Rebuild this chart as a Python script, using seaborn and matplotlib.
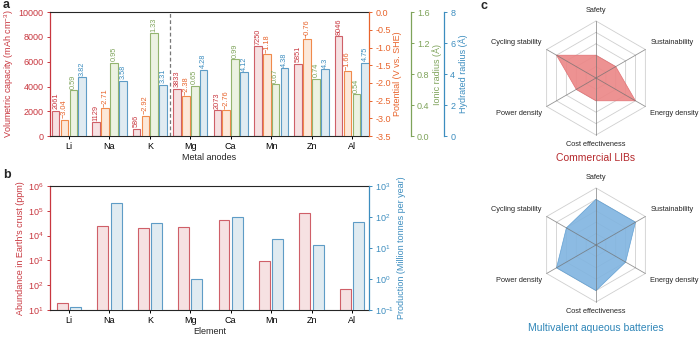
import numpy as np
import pandas as pd
import matplotlib
matplotlib.use('Agg')
import matplotlib.pyplot as plt
import seaborn as sns

# ---------------- data ----------------
metals = ['Li', 'Na', 'K', 'Mg', 'Ca', 'Mn', 'Zn', 'Al']
capacity = [2061, 1129, 586, 3833, 2073, 7250, 5851, 8046]
potential = [-3.04, -2.71, -2.92, -2.38, -2.76, -1.18, -0.76, -1.66]
ionic_radius = [0.59, 0.95, 1.33, 0.65, 0.99, 0.67, 0.74, 0.54]
hydrated_radius = [3.82, 3.58, 3.31, 4.28, 4.12, 4.38, 4.3, 4.75]
capacity_labels = ['2061', '1129', '586', '3833', '2073', '7250', '5851', '8046']
potential_labels = ['\u22123.04', '\u22122.71', '\u22122.92', '\u22122.38', '\u22122.76', '\u22121.18', '\u22120.76', '\u22121.66']
ionic_labels = ['0.59', '0.95', '1.33', '0.65', '0.99', '0.67', '0.74', '0.54']
hydrated_labels = ['3.82', '3.58', '3.31', '4.28', '4.12', '4.38', '4.3', '4.75']

abundance = [20, 23600, 20900, 23300, 41500, 950, 82300, 70]
production = [0.13, 280, 63, 1.0, 100, 19, 12.6, 68]

radar_axes = ['Safety', 'Sustainability', 'Energy density', 'Cost effectiveness',
              'Power density', 'Cycling stability']
libs_scores = [0.4, 0.4, 0.8, 0.4, 0.4, 0.8]
multivalent_scores = [0.8, 0.8, 0.6, 0.8, 0.8, 0.6]
radar_levels = [0.2, 0.4, 0.6, 0.8, 1.0]

# ---------------- style ----------------
sns.set_theme(style='ticks')
plt.rcParams['font.family'] = ['Liberation Sans', 'DejaVu Sans']
plt.rcParams['mathtext.default'] = 'regular'
plt.rcParams['axes.linewidth'] = 0.8

RED, RED_F, RED_T = '#cf5f68', '#f6e1e2', '#c8373f'
ORA, ORA_F, ORA_T = '#f08a4b', '#fce8d9', '#e8642c'
GRN, GRN_F, GRN_T = '#93b46f', '#ecf2e2', '#7ea35a'
BLU, BLU_F, BLU_T = '#5e9cc6', '#e0ebf1', '#3c8dbf'

FS = 6.5
LFS = 5.3

fig = plt.figure(figsize=(7, 3.37), dpi=100)

x = np.arange(len(metals))


def sbars(ax, pos, vals, fill, edge, width):
    df = pd.DataFrame({'x': pos, 'y': vals})
    sns.barplot(data=df, x='x', y='y', native_scale=True, width=width,
                color=fill, edgecolor=edge, linewidth=0.8, saturation=1,
                errorbar=None, ax=ax)


def labels(ax, pos, vals, texts, color):
    for p, v, t in zip(pos, vals, texts):
        ax.annotate(t, (p, v), xytext=(0, 1), textcoords='offset points',
                    rotation=90, ha='center', va='bottom', fontsize=LFS, color=color)


def style_axis(ax, color, side):
    ax.tick_params(axis='y', colors=color, labelsize=FS, length=2.5, width=0.7,
                   direction='out', pad=2)
    ax.spines[side].set_color(color)
    ax.spines[side].set_linewidth(0.9)


# ---------------- panel a ----------------
axA = fig.add_axes([0.0714, 0.596, 0.4557, 0.368])
axP = axA.twinx()
axI = axA.twinx()
axH = axA.twinx()

W = 0.19
off = [-0.33, -0.11, 0.11, 0.33]
sbars(axA, x + off[0], capacity, RED_F, RED, W)
POT_BOTTOM = -3.5
axP.bar(x + off[1], np.array(potential) - POT_BOTTOM, bottom=POT_BOTTOM, width=W,
        color=ORA_F, edgecolor=ORA, linewidth=0.8)
sbars(axI, x + off[2], ionic_radius, GRN_F, GRN, W)
sbars(axH, x + off[3], hydrated_radius, BLU_F, BLU, W)

labels(axA, x + off[0], capacity, capacity_labels, RED_T)
labels(axP, x + off[1], potential, potential_labels, ORA_T)
labels(axI, x + off[2], ionic_radius, ionic_labels, GRN_T)
labels(axH, x + off[3], hydrated_radius, hydrated_labels, BLU_T)

axA.set_ylim(0, 10000)
axA.set_yticks(np.arange(0, 10001, 2000))
axP.set_ylim(POT_BOTTOM, 0)
axP.set_yticks(np.arange(-3.5, 0.01, 0.5))
axP.yaxis.set_major_formatter(matplotlib.ticker.FormatStrFormatter('%.1f'))
axI.set_ylim(0, 1.6)
axI.set_yticks([0, 0.4, 0.8, 1.2, 1.6])
axI.yaxis.set_major_formatter(matplotlib.ticker.FormatStrFormatter('%.1f'))
axH.set_ylim(0, 8)
axH.set_yticks([0, 2, 4, 6, 8])

axA.axvline(2.5, color='#777777', ls=(0, (3, 2)), lw=0.9)

axI.spines['right'].set_position(('outward', 30))
axH.spines['right'].set_position(('outward', 54))
for t in (axP, axI, axH):
    for s in ('top', 'left', 'bottom'):
        t.spines[s].set_visible(False)
axA.spines['right'].set_visible(False)

style_axis(axA, RED_T, 'left')
style_axis(axP, ORA_T, 'right')
style_axis(axI, GRN_T, 'right')
style_axis(axH, BLU_T, 'right')

axA.set_ylabel('Volumetric capacity (mAh cm$^{-3}$)', color=RED_T, fontsize=FS, labelpad=2)
axP.set_ylabel('Potential (V vs. SHE)', color=ORA_T, fontsize=FS, labelpad=2)
axI.set_ylabel('Ionic radius (\u00c5)', color=GRN_T, fontsize=FS, labelpad=2)
axH.set_ylabel('Hydrated radius (\u00c5)', color=BLU_T, fontsize=FS, labelpad=2)

axA.set_xlim(-0.47, 7.42)
axA.set_xticks(x)
axA.set_xticklabels(metals)
axA.tick_params(axis='x', labelsize=FS, length=2.5, width=0.7, colors='black', pad=2)
axA.set_xlabel('Metal anodes', fontsize=FS, labelpad=1)

# ---------------- panel b ----------------
axB = fig.add_axes([0.0714, 0.080, 0.4557, 0.368])
axB2 = axB.twinx()
axB.set_yscale('log')
axB2.set_yscale('log')
WB = 0.27
sbars(axB, x - 0.165, abundance, RED_F, RED, WB)
sbars(axB2, x + 0.165, production, BLU_F, BLU, WB)
axB.set_ylim(10, 1e6)
axB2.set_ylim(0.1, 1e3)
for a in (axB, axB2):
    a.yaxis.set_minor_locator(matplotlib.ticker.NullLocator())
axB.yaxis.set_major_locator(matplotlib.ticker.LogLocator(base=10, numticks=10))
axB2.yaxis.set_major_locator(matplotlib.ticker.LogLocator(base=10, numticks=10))
for s in ('top', 'left', 'bottom'):
    axB2.spines[s].set_visible(False)
axB.spines['right'].set_visible(False)
style_axis(axB, RED_T, 'left')
style_axis(axB2, BLU_T, 'right')
axB.set_ylabel("Abundance in Earth's crust (ppm)", color=RED_T, fontsize=FS, labelpad=2)
axB2.set_ylabel('Production (Million tonnes per year)', color=BLU_T, fontsize=FS, labelpad=2)
axB.set_xlim(-0.47, 7.42)
axB.set_xticks(x)
axB.set_xticklabels(metals)
axB.tick_params(axis='x', labelsize=FS, length=2.5, width=0.7, colors='black', pad=2)
axB.set_xlabel('Element', fontsize=FS, labelpad=1)

# ---------------- panel c ----------------
angles = np.deg2rad(90 - 60 * np.arange(6))


def radar(rect, scores, fill, edge):
    ax = fig.add_axes(rect)
    ax.set_xlim(-1.9, 1.9)
    ax.set_ylim(-1.35, 1.35)
    ax.set_aspect('equal')
    ax.axis('off')
    closed = np.r_[angles, angles[0]]
    for lvl in radar_levels:
        ax.plot(lvl * np.cos(closed), lvl * np.sin(closed), color='#cfcfcf', lw=0.6, zorder=1)
    sc = np.r_[scores, scores[0]]
    ax.fill(sc * np.cos(closed), sc * np.sin(closed), color=fill, alpha=0.9,
            zorder=2, lw=0.5, edgecolor=edge)
    for a in angles[:3]:
        ax.plot([np.cos(a), -np.cos(a)], [np.sin(a), -np.sin(a)], color='#707070',
                lw=0.6, zorder=3, alpha=0.75)
    for name, a in zip(radar_axes, angles):
        c, s = np.cos(a), np.sin(a)
        if abs(c) < 0.1:
            ax.text(0, 1.19 if s > 0 else -1.16, name, ha='center', va='center', fontsize=5.3)
        else:
            ax.text(1.1 * c, 1.1 * s + np.sign(s) * 0.07, name,
                    ha='left' if c > 0 else 'right', va='center', fontsize=5.3)
    return ax


radar([487.7 / 700, 1 - 155 / 337, 216.6 / 700, 154 / 337], libs_scores, '#ec8686', '#e06a6d')
radar([487.7 / 700, 1 - 322 / 337, 216.6 / 700, 154 / 337], multivalent_scores, '#80b4e0', '#5a9bd0')
fig.text(596 / 700, 1 - 158 / 337, 'Commercial LIBs', color='#b5282c', fontsize=7.5,
         ha='center', va='center')
fig.text(596 / 700, 1 - 328 / 337, 'Multivalent aqueous batteries', color='#2f86b8',
         fontsize=7.5, ha='center', va='center')

# panel letters
fig.text(0.004, 0.985, 'a', fontsize=9, fontweight='bold', va='center')
fig.text(0.004, 0.48, 'b', fontsize=9, fontweight='bold', va='center')
fig.text(0.686, 0.982, 'c', fontsize=9, fontweight='bold', va='center')

fig.savefig('out.png', dpi=100)
